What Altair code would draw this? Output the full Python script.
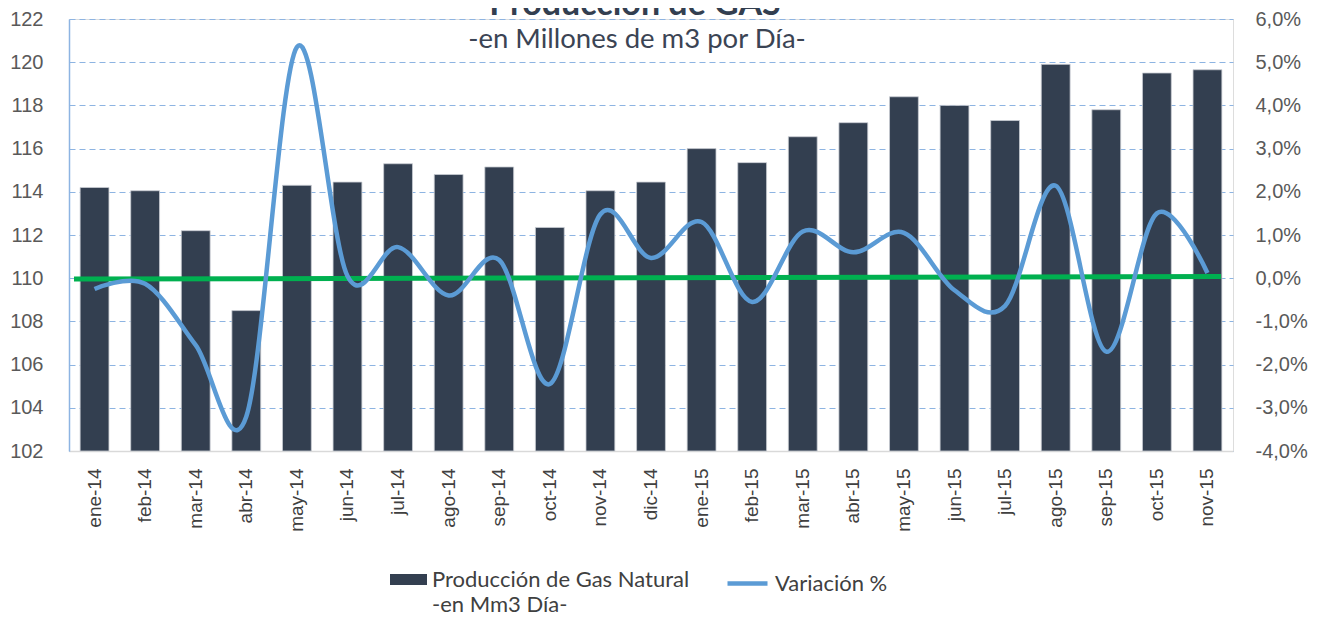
import altair as alt
import pandas as pd

meses = ["ene-14", "feb-14", "mar-14", "abr-14", "may-14", "jun-14", "jul-14", "ago-14",
         "sep-14", "oct-14", "nov-14", "dic-14", "ene-15", "feb-15", "mar-15", "abr-15",
         "may-15", "jun-15", "jul-15", "ago-15", "sep-15", "oct-15", "nov-15"]
produccion = [114.2, 114.05, 112.2, 108.5, 114.3, 114.45, 115.3, 114.8, 115.15, 112.35,
              114.05, 114.45, 116.0, 115.35, 116.55, 117.2, 118.4, 118.0, 117.3, 119.9,
              117.8, 119.5, 119.65]
variacion = [-0.25, -0.13, -1.55, -3.2, 5.35, 0.05, 0.72, -0.4, 0.42, -2.45, 1.48, 0.47,
             1.3, -0.55, 1.08, 0.6, 1.05, -0.28, -0.64, 2.14, -1.7, 1.5, 0.12]
ticks_izq = [102, 104, 106, 108, 110, 112, 114, 116, 118, 120, 122]
ticks_der = [-4, -3, -2, -1, 0, 1, 2, 3, 4, 5, 6]

serie_barras = "Producción de Gas Natural"
serie_linea = "Variación %"
titulo = "Producción de GAS"
subtitulo = "-en Millones de m3 por Día-"
leyenda_linea2 = "-en Mm3 Día-"

df = pd.DataFrame({"mes": meses, "prod": produccion, "var": variacion})
df["s1"] = serie_barras
df["s2"] = serie_linea

W, H = 1164, 432
FONT = "Lato"
one = pd.DataFrame({"k": [0]})

x_enc = alt.X("mes:N", sort=meses, title=None,
              scale=alt.Scale(paddingInner=0.43, paddingOuter=0.22),
              axis=alt.Axis(labelAngle=-90, labelFontSize=19, labelColor="#404040",
                            labelPadding=17, ticks=False, domainColor="#d9d9d9",
                            domainWidth=1.5, grid=False))

bars = alt.Chart(df).mark_bar(stroke="#c9cdd3", strokeWidth=0.8).encode(
    x=x_enc,
    y=alt.Y("prod:Q", title=None,
            scale=alt.Scale(domain=[102, 122], zero=False, nice=False),
            axis=alt.Axis(values=ticks_izq, grid=True, gridDash=[6, 4], gridColor="#8db4e2",
                          gridWidth=1.2, domainColor="#8db4e2", domainWidth=1.5, ticks=False,
                          labelPadding=26, labelFontSize=20, labelColor="#595959")),
    y2=alt.datum(102),
    fill=alt.Fill("s1:N", scale=alt.Scale(range=["#333f50"]),
                  legend=alt.Legend(title=None, orient="none", legendX=321, legendY=542,
                                    symbolType="M-1,-0.3H1V0.3H-1Z", symbolSize=1369,
                                    symbolStrokeWidth=0, labelFontSize=22, labelColor="#404040",
                                    labelFont=FONT, labelOffset=5, labelLimit=500, padding=0)),
)

t_titulo = alt.Chart(one).mark_text(text=titulo, fontSize=34, fontWeight="bold", font=FONT,
                                    color="#333f50", align="center").encode(
    x=alt.value(566), y=alt.value(-14))
t_sub = alt.Chart(one).mark_text(text=subtitulo, fontSize=27.5, font=FONT, color="#3b4454",
                                 align="center").encode(x=alt.value(568), y=alt.value(21))
t_leg2 = alt.Chart(one).mark_text(text=leyenda_linea2, fontSize=22, font=FONT, color="#404040",
                                  align="left").encode(x=alt.value(363), y=alt.value(586))

rule = alt.Chart(one).mark_rule(color="#00b050", strokeWidth=5).encode(
    x=alt.value(5), x2=alt.value(1152), y=alt.datum(-0.02), y2=alt.datum(0.04))

line = alt.Chart(df).mark_line(interpolate="cardinal", tension=0, strokeWidth=4.5).encode(
    x=x_enc,
    y=alt.Y("var:Q", title=None,
            scale=alt.Scale(domain=[-4, 6], zero=False, nice=False),
            axis=alt.Axis(orient="right", values=ticks_der, grid=False, domain=False, ticks=False,
                          labelPadding=22, labelFontSize=20, labelColor="#595959",
                          labelExpr="(datum.value < 0 ? '-' : '') + replace(format(abs(datum.value), '.1f'), '.', ',') + '%'")),
    stroke=alt.Stroke("s2:N", scale=alt.Scale(range=["#5b9bd5"]),
                      legend=alt.Legend(title=None, orient="none", legendX=656, legendY=542,
                                        symbolType="stroke", symbolSize=1600, symbolStrokeWidth=4.5,
                                        labelFontSize=22, labelColor="#404040", labelFont=FONT,
                                        labelOffset=5, labelLimit=500, padding=0)),
)

left = alt.layer(bars, t_titulo, t_sub, t_leg2)
right = alt.layer(rule, line)

chart = alt.layer(left, right).resolve_scale(y="independent").properties(
    width=W, height=H,
    padding={"left": 61, "top": 11, "right": 80, "bottom": 164},
    autosize=alt.AutoSizeParams(type="none"),
).configure_view(stroke=None).configure_axis(labelFont=FONT).configure(background="white")

chart.save("out.html", embed_options={"renderer": "svg", "actions": False})
